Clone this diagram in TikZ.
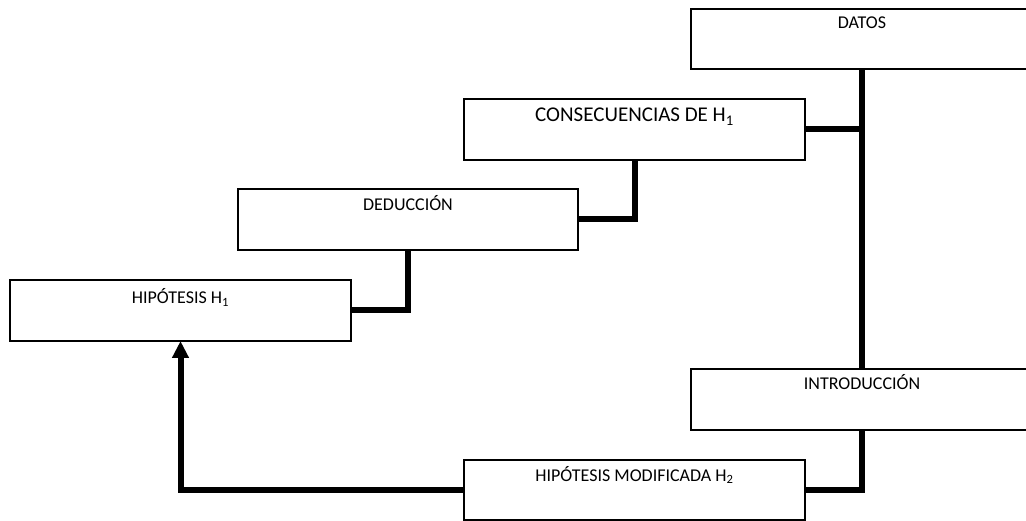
\documentclass[tikz,border=0pt]{standalone}
\usepackage{fontspec}
\setmainfont{Carlito}
\usetikzlibrary{arrows.meta}
\begin{document}
\begin{tikzpicture}[x=1pt,y=-1pt,
  box/.style={draw=black, line width=1.5pt, rectangle, minimum width=341pt, minimum height=61pt, inner sep=0pt, outer sep=0pt},
  lbl/.style={anchor=base, inner sep=0pt, font=\fontsize{18}{20}\selectfont},
  biglbl/.style={anchor=base, inner sep=0pt, font=\fontsize{21}{24}\selectfont},
  conn/.style={line width=6pt, draw=black},
  arr/.style={conn, -{Triangle[width=16pt,length=17pt]}}]
\useasboundingbox (0,0) rectangle (1026,521);
\node[box, minimum width=342pt, minimum height=60pt] (datos) at (862,39) {};
\node[box] (consec) at (634.5,129.5) {};
\node[box, minimum width=340pt] (deduc) at (408,219.5) {};
\node[box] (hipo) at (180.5,310.5) {};
\node[box, minimum width=342pt] (intro) at (862,399.5) {};
\node[box, minimum height=60pt] (h2) at (634.5,490) {};

\node[lbl] (datos-t) at ([yshift=-20pt]datos.north) {DATOS};
\node[biglbl] (consec-t) at ([yshift=-23pt]consec.north) {CONSECUENCIAS DE H\textsubscript{1}};
\node[lbl] (deduc-t) at ([yshift=-22pt]deduc.north) {DEDUCCIÓN};
\node[lbl] (hipo-t) at ([yshift=-24pt]hipo.north) {HIPÓTESIS H\textsubscript{1}};
\node[lbl] (intro-t) at ([yshift=-20pt]intro.north) {INTRODUCCIÓN};
\node[lbl] (h2-t) at ([yshift=-21pt]h2.north) {HIPÓTESIS MODIFICADA H\textsubscript{2}};

\draw[conn] (datos.south) -- (intro.north);
\draw[conn] (consec.east) -- (consec.east -| datos.south);
\draw[conn] (consec.south) |- (deduc.east);
\draw[conn] (deduc.south) |- (hipo.east);
\draw[conn] (intro.south) |- (h2.east);
\draw[arr] (h2.west) -| (hipo.south);
\end{tikzpicture}
\end{document}
